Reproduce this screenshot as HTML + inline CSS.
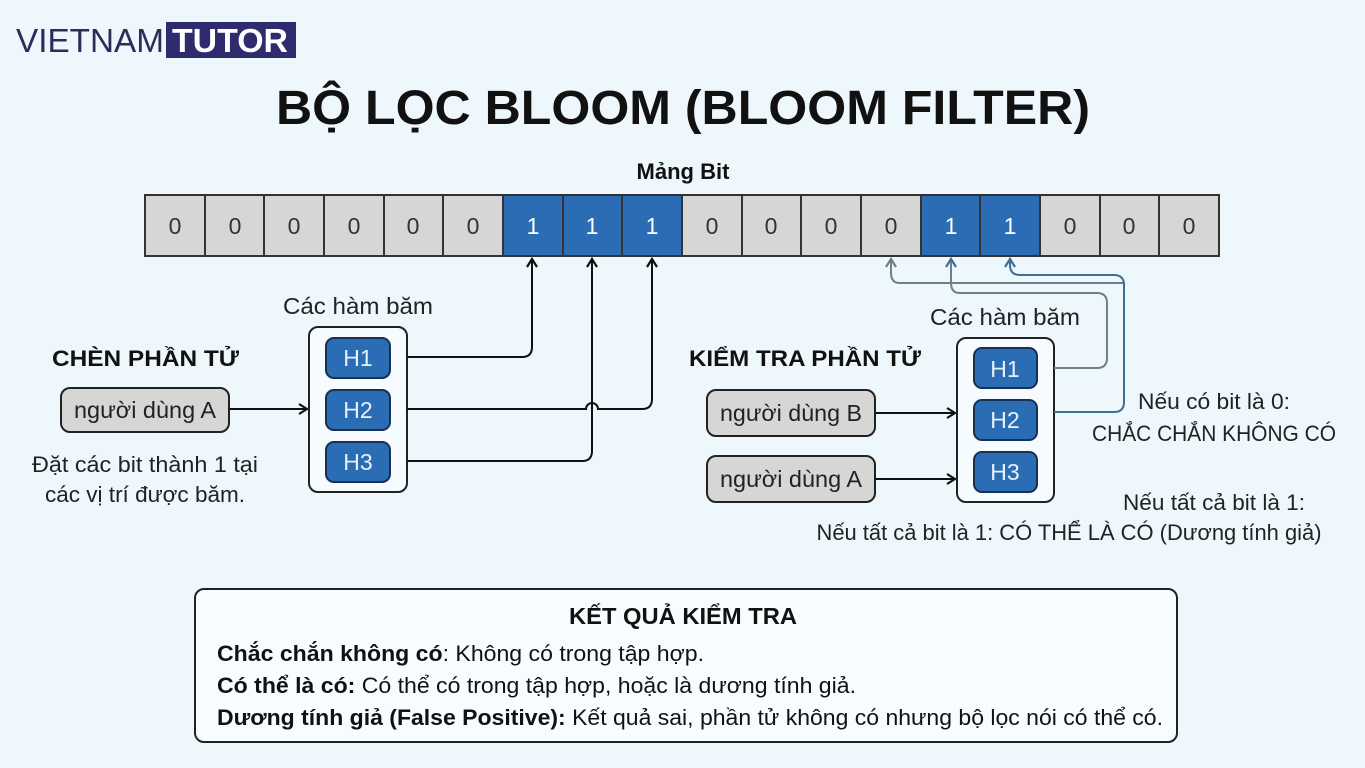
<!DOCTYPE html>
<html><head><meta charset="utf-8"><style>
body{margin:0;background:#eef7fc;}
svg{display:block}
text{font-family:"Liberation Sans",sans-serif;}
</style></head><body>
<svg width="1365" height="768" viewBox="0 0 1365 768" xmlns="http://www.w3.org/2000/svg">
<rect width="1365" height="768" fill="#eef7fc"/>
<defs>
<marker id="ak" markerWidth="12" markerHeight="12" refX="9" refY="6" orient="auto" markerUnits="userSpaceOnUse"><path d="M1,1 L9,6 L1,11" fill="none" stroke="#111" stroke-width="2.2"/></marker>
<marker id="ag" markerWidth="12" markerHeight="12" refX="9" refY="6" orient="auto" markerUnits="userSpaceOnUse"><path d="M1,1 L9,6 L1,11" fill="none" stroke="#6f7f8c" stroke-width="2.2"/></marker>
<marker id="ab" markerWidth="12" markerHeight="12" refX="9" refY="6" orient="auto" markerUnits="userSpaceOnUse"><path d="M1,1 L9,6 L1,11" fill="none" stroke="#3d6f9a" stroke-width="2.2"/></marker>
</defs>
<!-- logo -->
<text x="16" y="52" font-size="33" fill="#2a2d5a" textLength="148" lengthAdjust="spacingAndGlyphs">VIETNAM</text>
<rect x="166" y="22" width="130" height="36" fill="#2f2b6e"/>
<text x="172" y="52" font-size="33" font-weight="bold" fill="#fff" textLength="116" lengthAdjust="spacingAndGlyphs">TUTOR</text>
<!-- title -->
<text x="683" y="124" font-size="48" font-weight="bold" text-anchor="middle" fill="#111" textLength="814" lengthAdjust="spacingAndGlyphs">BỘ LỌC BLOOM (BLOOM FILTER)</text>
<text x="683" y="179" font-size="22" font-weight="bold" text-anchor="middle" fill="#111">Mảng Bit</text>
<!-- bit array -->
<g font-size="23" text-anchor="middle">
<rect x="145" y="195" width="1074" height="61" fill="#d6d6d6" stroke="#333" stroke-width="2"/>
<rect x="503" y="195" width="179" height="61" fill="#2a6db5"/>
<rect x="921" y="195" width="119" height="61" fill="#2a6db5"/>
<g stroke="#333" stroke-width="2">
<line x1="205" y1="195" x2="205" y2="256"/><line x1="264" y1="195" x2="264" y2="256"/><line x1="324" y1="195" x2="324" y2="256"/><line x1="384" y1="195" x2="384" y2="256"/><line x1="443" y1="195" x2="443" y2="256"/><line x1="503" y1="195" x2="503" y2="256"/><line x1="563" y1="195" x2="563" y2="256"/><line x1="622" y1="195" x2="622" y2="256"/><line x1="682" y1="195" x2="682" y2="256"/><line x1="742" y1="195" x2="742" y2="256"/><line x1="801" y1="195" x2="801" y2="256"/><line x1="861" y1="195" x2="861" y2="256"/><line x1="921" y1="195" x2="921" y2="256"/><line x1="980" y1="195" x2="980" y2="256"/><line x1="1040" y1="195" x2="1040" y2="256"/><line x1="1100" y1="195" x2="1100" y2="256"/><line x1="1159" y1="195" x2="1159" y2="256"/>
<rect x="145" y="195" width="1074" height="61" fill="none"/>
</g>
<g fill="#333">
<text x="175" y="234">0</text><text x="235" y="234">0</text><text x="294" y="234">0</text><text x="354" y="234">0</text><text x="413" y="234">0</text><text x="473" y="234">0</text>
<text x="712" y="234">0</text><text x="771" y="234">0</text><text x="831" y="234">0</text><text x="891" y="234">0</text>
<text x="1070" y="234">0</text><text x="1129" y="234">0</text><text x="1189" y="234">0</text>
</g>
<g fill="#fff">
<text x="533" y="234">1</text><text x="592" y="234">1</text><text x="652" y="234">1</text><text x="951" y="234">1</text><text x="1010" y="234">1</text>
</g>
</g>
<!-- left section -->
<text x="52" y="366" font-size="22" font-weight="bold" fill="#111" textLength="187" lengthAdjust="spacingAndGlyphs">CHÈN PHẦN TỬ</text>
<rect x="61" y="388" width="168" height="44" rx="9" fill="#d6d6d6" stroke="#222" stroke-width="2"/>
<text x="145" y="418" font-size="23" text-anchor="middle" fill="#222" textLength="142" lengthAdjust="spacingAndGlyphs">người dùng A</text>
<text x="145" y="472" font-size="22" text-anchor="middle" fill="#222" textLength="226" lengthAdjust="spacingAndGlyphs">Đặt các bit thành 1 tại</text>
<text x="145" y="502" font-size="22" text-anchor="middle" fill="#222" textLength="200" lengthAdjust="spacingAndGlyphs">các vị trí được băm.</text>
<line x1="229" y1="409" x2="307" y2="409" stroke="#111" stroke-width="2" marker-end="url(#ak)"/>
<text x="358" y="314" font-size="23" text-anchor="middle" fill="#222" textLength="150" lengthAdjust="spacingAndGlyphs">Các hàm băm</text>
<rect x="309" y="327" width="98" height="165" rx="9" fill="#f5fbfe" stroke="#222" stroke-width="2"/>
<g font-size="23" text-anchor="middle" fill="#e8f0fa">
<rect x="326" y="338" width="64" height="40" rx="8" fill="#2a6db5" stroke="#1a3050" stroke-width="2"/><text x="358" y="366">H1</text>
<rect x="326" y="390" width="64" height="40" rx="8" fill="#2a6db5" stroke="#1a3050" stroke-width="2"/><text x="358" y="418">H2</text>
<rect x="326" y="442" width="64" height="40" rx="8" fill="#2a6db5" stroke="#1a3050" stroke-width="2"/><text x="358" y="470">H3</text>
</g>
<g fill="none" stroke="#111" stroke-width="2">
<path d="M407,357 H522 Q532,357 532,347 V259" marker-end="url(#ak)"/>
<path d="M407,461 H582 Q592,461 592,451 V259" marker-end="url(#ak)"/>
<path d="M407,409 H586 A6,6 0 0 1 598,409 H642 Q652,409 652,399 V259" marker-end="url(#ak)"/>
</g>
<!-- right section -->
<text x="689" y="366" font-size="22" font-weight="bold" fill="#111" textLength="232" lengthAdjust="spacingAndGlyphs">KIỂM TRA PHẦN TỬ</text>
<rect x="707" y="390" width="168" height="46" rx="9" fill="#d6d6d6" stroke="#222" stroke-width="2"/>
<text x="791" y="421" font-size="23" text-anchor="middle" fill="#222" textLength="142" lengthAdjust="spacingAndGlyphs">người dùng B</text>
<rect x="707" y="456" width="168" height="46" rx="9" fill="#d6d6d6" stroke="#222" stroke-width="2"/>
<text x="791" y="487" font-size="23" text-anchor="middle" fill="#222" textLength="142" lengthAdjust="spacingAndGlyphs">người dùng A</text>
<line x1="875" y1="413" x2="955" y2="413" stroke="#111" stroke-width="2" marker-end="url(#ak)"/>
<line x1="875" y1="479" x2="955" y2="479" stroke="#111" stroke-width="2" marker-end="url(#ak)"/>
<text x="1005" y="325" font-size="23" text-anchor="middle" fill="#222" textLength="150" lengthAdjust="spacingAndGlyphs">Các hàm băm</text>
<rect x="957" y="338" width="97" height="164" rx="9" fill="#f5fbfe" stroke="#222" stroke-width="2"/>
<g font-size="23" text-anchor="middle" fill="#e8f0fa">
<rect x="974" y="348" width="63" height="40" rx="8" fill="#2a6db5" stroke="#1a3050" stroke-width="2"/><text x="1005" y="377">H1</text>
<rect x="974" y="400" width="63" height="40" rx="8" fill="#2a6db5" stroke="#1a3050" stroke-width="2"/><text x="1005" y="428">H2</text>
<rect x="974" y="452" width="63" height="40" rx="8" fill="#2a6db5" stroke="#1a3050" stroke-width="2"/><text x="1005" y="480">H3</text>
</g>
<g fill="none" stroke-width="2">
<path d="M1054,368 H1097 Q1107,368 1107,358 V303 Q1107,293 1097,293 H960 Q951,293 951,283 V259" stroke="#6f7f8c" marker-end="url(#ab)"/>
<path d="M1124,290 V283 Q1124,283 1114,283 H900 Q891,283 891,273 V259" stroke="#6f7f8c" marker-end="url(#ag)"/>
<path d="M1054,412 H1114 Q1124,412 1124,402 V285 Q1124,275 1114,275 H1020 Q1010,275 1010,265 V259" stroke="#3d6f9a" marker-end="url(#ab)"/>
</g>
<text x="1214" y="409" font-size="22" text-anchor="middle" fill="#222" textLength="152" lengthAdjust="spacingAndGlyphs">Nếu có bit là 0:</text>
<text x="1214" y="441" font-size="22" text-anchor="middle" fill="#222" textLength="244" lengthAdjust="spacingAndGlyphs">CHẮC CHẮN KHÔNG CÓ</text>
<text x="1214" y="510" font-size="22" text-anchor="middle" fill="#222" textLength="182" lengthAdjust="spacingAndGlyphs">Nếu tất cả bit là 1:</text>
<text x="1069" y="540" font-size="22" text-anchor="middle" fill="#222" textLength="505" lengthAdjust="spacingAndGlyphs">Nếu tất cả bit là 1: CÓ THỂ LÀ CÓ (Dương tính giả)</text>
<!-- bottom box -->
<rect x="195" y="589" width="982" height="153" rx="9" fill="#f7fcfe" stroke="#222" stroke-width="2"/>
<text x="683" y="624" font-size="23" font-weight="bold" text-anchor="middle" fill="#111" textLength="228" lengthAdjust="spacingAndGlyphs">KẾT QUẢ KIỂM TRA</text>
<g font-size="22" fill="#111">
<text x="217" y="661" textLength="487" lengthAdjust="spacingAndGlyphs"><tspan font-weight="bold">Chắc chắn không có</tspan>: Không có trong tập hợp.</text>
<text x="217" y="693" textLength="639" lengthAdjust="spacingAndGlyphs"><tspan font-weight="bold">Có thể là có:</tspan> Có thể có trong tập hợp, hoặc là dương tính giả.</text>
<text x="217" y="725" textLength="946" lengthAdjust="spacingAndGlyphs"><tspan font-weight="bold">Dương tính giả (False Positive):</tspan> Kết quả sai, phần tử không có nhưng bộ lọc nói có thể có.</text>
</g>
</svg>
</body></html>
